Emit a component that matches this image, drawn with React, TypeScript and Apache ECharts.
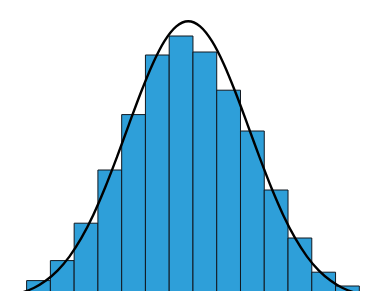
import React, { useEffect, useRef } from "react";
import * as echarts from "echarts";

// Histogram bin counts (14 bins of width 1, starting at 0)
const binStarts = [0, 1, 2, 3, 4, 5, 6, 7, 8, 9, 10, 11, 12, 13];
const binCounts = [9.7, 19.7, 38.4, 65, 92.7, 122.5, 132, 124, 104.9, 84.5, 55, 31, 13.9, 7];

// Fitted density curve
const curveX = [
  -0.7, -0.2, 0.3, 0.8, 1.3, 1.8, 2.3, 2.8, 3.3, 3.8, 4.3, 4.8, 5.3, 5.8, 6.3, 6.8,
  7.3, 7.8, 8.3, 8.8, 9.3, 9.8, 10.3, 10.8, 11.3, 11.8, 12.3, 12.8, 13.3, 13.8, 14.3,
];
const curveY = [
  2.1, 3.7, 6.0, 9.6, 14.7, 21.7, 30.9, 42.4, 56.1, 71.4, 87.6, 103.5, 117.9, 129.4, 136.8, 139.4,
  136.8, 129.4, 117.9, 103.5, 87.6, 71.4, 56.1, 42.4, 30.9, 21.7, 14.7, 9.6, 6.0, 3.7, 2.1,
];

export default function App() {
  const ref = useRef<HTMLDivElement>(null);
  useEffect(() => {
    document.body.style.margin = "0";
    document.body.style.overflow = "hidden";
    document.documentElement.style.overflow = "hidden";
    const chart = echarts.init(ref.current!, null, { renderer: "svg" });
    const barData = binStarts.map((s, i) => [s, s + 1, binCounts[i]]);
    chart.setOption({
      animation: false,
      grid: { left: 0, right: 0, top: 0, bottom: 0 },
      xAxis: { type: "value", min: -1.12, max: 14.66, show: false },
      yAxis: { type: "value", min: 0, max: 150, show: false },
      series: [
        {
          type: "custom",
          data: barData,
          encode: { x: [0, 1], y: 2 },
          clip: false,
          renderItem: (params: any, api: any) => {
            const p0 = api.coord([api.value(0), 0]);
            const p1 = api.coord([api.value(1), api.value(2)]);
            return {
              type: "rect",
              shape: { x: p0[0], y: p1[1], width: p1[0] - p0[0], height: p0[1] - p1[1] },
              style: { fill: "#2e9fd9", stroke: "#111820", lineWidth: 1 },
            };
          },
          z: 1,
        },
        {
          type: "line",
          data: curveX.map((x, i) => [x, curveY[i]]),
          smooth: 0.3,
          showSymbol: false,
          clip: false,
          lineStyle: { color: "#000", width: 2.4 },
          z: 2,
        },
      ],
    });
    return () => chart.dispose();
  }, []);
  return <div ref={ref} style={{ width: 375, height: 300 }} />;
}
